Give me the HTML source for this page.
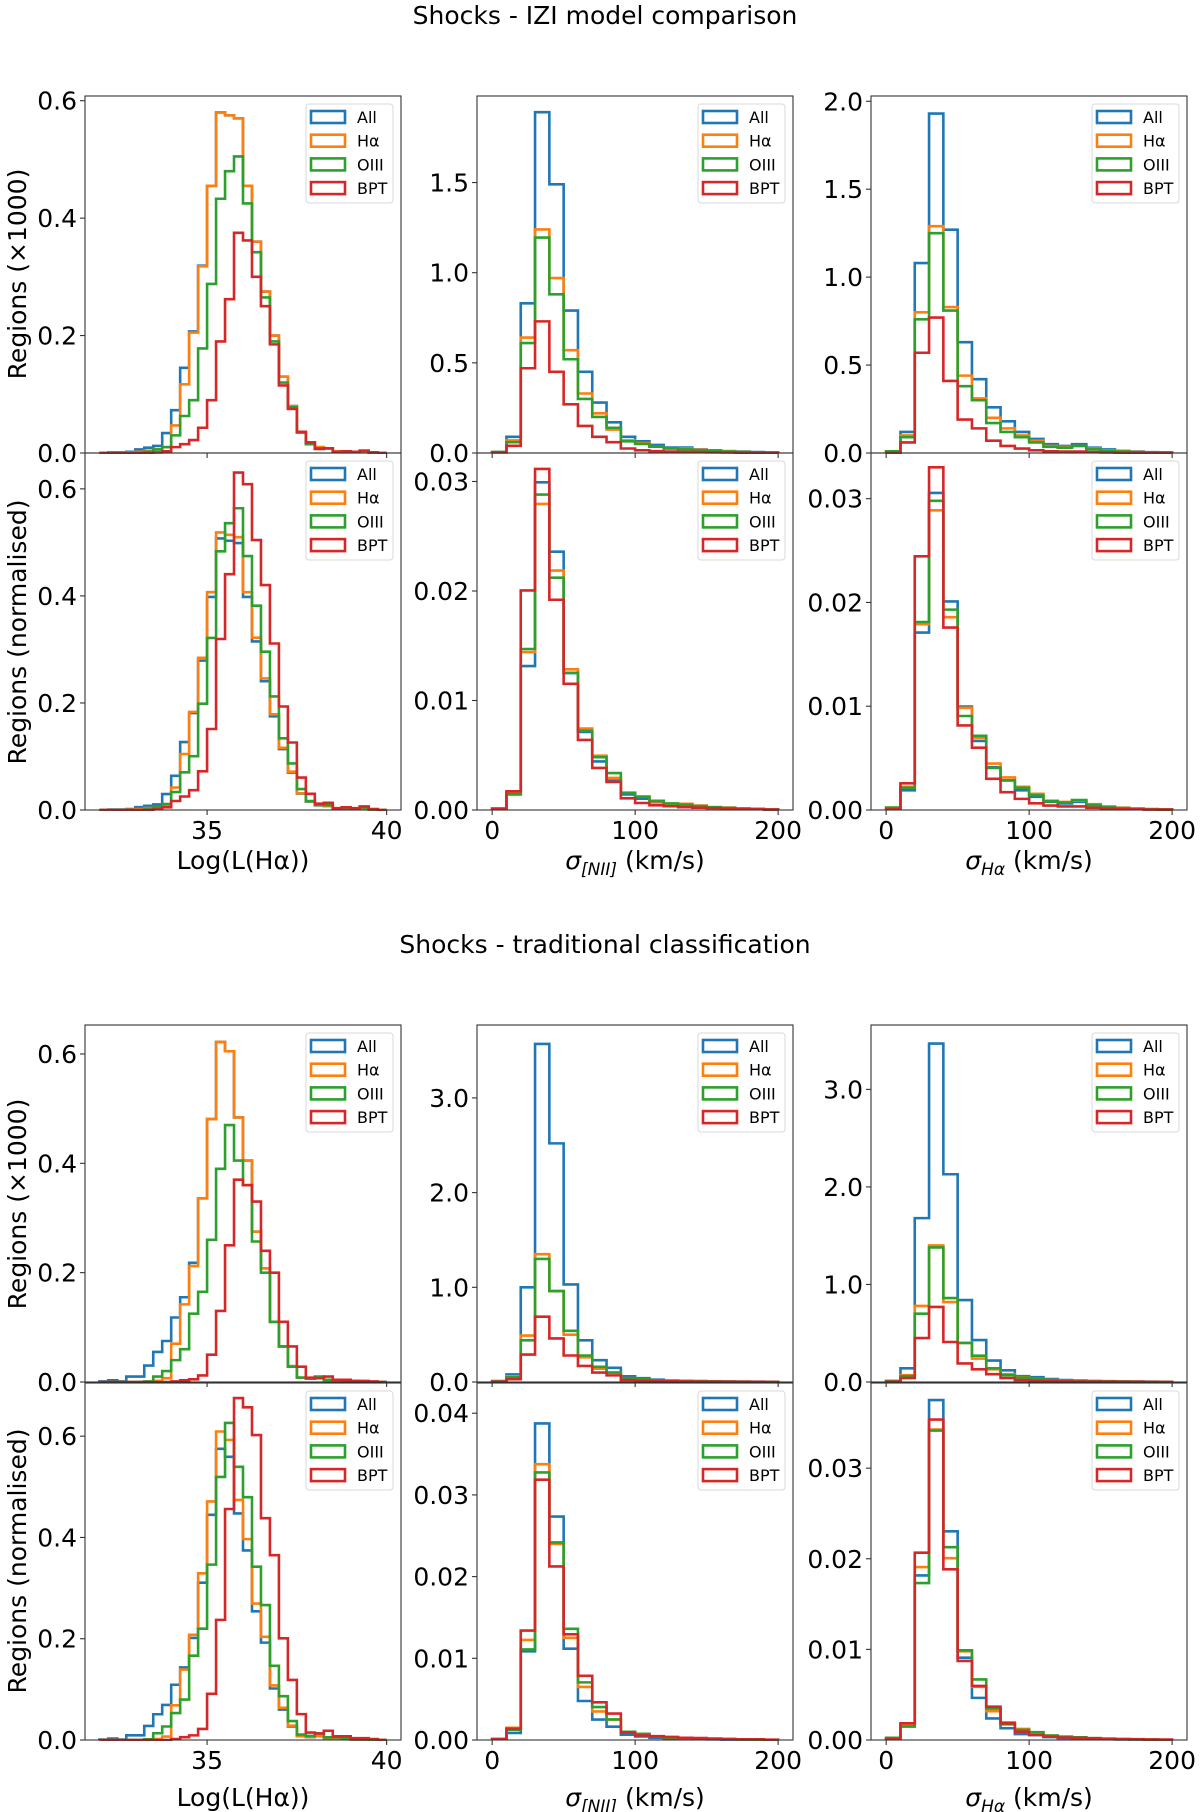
<!DOCTYPE html>
<html><head><meta charset="utf-8"><style>
html,body{margin:0;padding:0;background:#fff;}
svg{display:block;font-family:"DejaVu Sans","Liberation Sans",sans-serif;}
</style></head><body>
<svg id="fig" width="1200" height="1812" viewBox="0 0 1200 1812" xmlns="http://www.w3.org/2000/svg">
<text x="605" y="24" font-size="25" text-anchor="middle">Shocks - IZI model comparison</text>
<text x="605" y="953" font-size="25" text-anchor="middle">Shocks - traditional classification</text>
</svg>
<script>
// ---- data (top-level arrays) ----
const seriesNames = ["All","Hα","OIII","BPT"];
const seriesColors = ["#1f77b4","#ff7f0e","#2ca02c","#d62728"];
const lumBinStart = 32, lumBinWidth = 0.25;
const sigBinStart = 0, sigBinWidth = 10;

// IZI, luminosity (x1000)
const iziLumAll = [0,0.001,0.001,0.002,0.006,0.009,0.012,0.034,0.073,0.145,0.207,0.319,0.455,0.58,0.575,0.57,0.455,0.36,0.275,0.2,0.13,0.08,0.035,0.018,0.01,0.008,0.003,0.003,0.002,0.003,0.001,0];
const iziLumHa  = [0,0,0,0.001,0.002,0.004,0.006,0.01,0.047,0.117,0.205,0.318,0.455,0.58,0.575,0.57,0.455,0.36,0.275,0.2,0.13,0.08,0.035,0.018,0.01,0.008,0.003,0.003,0.002,0.003,0.001,0];
const iziLumO3  = [0,0,0,0,0,0.002,0.006,0.01,0.03,0.063,0.09,0.178,0.288,0.433,0.48,0.505,0.425,0.342,0.265,0.19,0.12,0.078,0.035,0.015,0.008,0.008,0.002,0.003,0.002,0.004,0.001,0];
const iziLumBPT = [0,0,0,0,0,0,0.001,0.003,0.01,0.015,0.022,0.043,0.09,0.19,0.262,0.375,0.362,0.3,0.25,0.185,0.115,0.075,0.036,0.018,0.007,0.008,0.002,0.003,0.002,0.004,0.001,0];
// IZI, sigma NII
const iziNiiAll = [0.005,0.09,0.83,1.89,1.49,0.79,0.45,0.28,0.17,0.09,0.065,0.045,0.03,0.03,0.02,0.015,0.01,0.008,0.005,0.003];
const iziNiiHa  = [0.005,0.07,0.64,1.24,0.97,0.57,0.33,0.22,0.13,0.07,0.055,0.035,0.025,0.025,0.018,0.012,0.01,0.006,0.004,0.002];
const iziNiiO3  = [0.005,0.06,0.61,1.195,0.88,0.52,0.3,0.2,0.14,0.065,0.05,0.035,0.025,0.02,0.015,0.01,0.008,0.005,0.004,0.002];
const iziNiiBPT = [0.003,0.04,0.47,0.73,0.45,0.27,0.15,0.09,0.06,0.025,0.015,0.01,0.008,0.006,0.005,0.004,0.003,0.002,0.002,0.001];
// IZI, sigma Ha
const iziHaAll = [0.01,0.12,1.08,1.93,1.27,0.63,0.42,0.26,0.18,0.12,0.08,0.05,0.04,0.05,0.03,0.02,0.012,0.008,0.005,0.003];
const iziHaHa  = [0.01,0.1,0.8,1.29,0.83,0.44,0.31,0.2,0.14,0.1,0.07,0.04,0.035,0.04,0.025,0.015,0.01,0.006,0.004,0.002];
const iziHaO3  = [0.01,0.09,0.76,1.25,0.81,0.38,0.3,0.17,0.12,0.09,0.06,0.035,0.03,0.04,0.02,0.012,0.008,0.005,0.003,0.002];
const iziHaBPT = [0.002,0.06,0.57,0.77,0.41,0.19,0.14,0.07,0.04,0.025,0.015,0.01,0.008,0.008,0.005,0.003,0.002,0.002,0.001,0.001];
// Traditional, luminosity
const trdLumAll = [0.001,0.003,0.001,0.01,0.01,0.03,0.055,0.075,0.118,0.155,0.218,0.336,0.481,0.622,0.605,0.484,0.405,0.275,0.208,0.11,0.065,0.029,0.008,0.006,0.008,0.003,0.002,0.002,0.001,0.001,0,0];
const trdLumHa  = [0,0,0,0,0,0,0.002,0.007,0.07,0.142,0.212,0.336,0.481,0.622,0.605,0.484,0.405,0.275,0.208,0.11,0.065,0.029,0.008,0.006,0.008,0.003,0.002,0.002,0.001,0.001,0,0];
const trdLumO3  = [0,0,0,0,0,0.001,0.01,0.02,0.04,0.06,0.125,0.165,0.26,0.39,0.47,0.405,0.36,0.257,0.2,0.11,0.065,0.028,0.008,0.006,0.01,0.004,0.004,0.002,0.002,0.001,0,0];
const trdLumBPT = [0,0,0,0,0,0,0,0,0.001,0.003,0.005,0.012,0.05,0.13,0.25,0.37,0.36,0.33,0.24,0.2,0.11,0.065,0.028,0.008,0.007,0.01,0.004,0.004,0.002,0.002,0.001,0];
// Traditional, sigma NII
const trdNiiAll = [0.01,0.08,1.0,3.57,2.52,1.03,0.44,0.23,0.15,0.06,0.04,0.025,0.015,0.012,0.01,0.008,0.005,0.004,0.003,0.002];
const trdNiiHa  = [0.005,0.06,0.49,1.35,0.96,0.5,0.26,0.14,0.1,0.04,0.03,0.018,0.012,0.01,0.008,0.006,0.004,0.003,0.002,0.001];
const trdNiiO3  = [0.005,0.05,0.44,1.3,0.96,0.54,0.28,0.16,0.1,0.04,0.03,0.018,0.012,0.01,0.008,0.006,0.004,0.003,0.002,0.001];
const trdNiiBPT = [0.002,0.03,0.29,0.69,0.46,0.28,0.17,0.1,0.07,0.02,0.012,0.01,0.008,0.006,0.005,0.004,0.003,0.002,0.002,0.001];
// Traditional, sigma Ha
const trdHaAll = [0.01,0.14,1.68,3.47,2.13,0.84,0.43,0.22,0.12,0.06,0.05,0.03,0.02,0.015,0.01,0.008,0.006,0.004,0.003,0.002];
const trdHaHa  = [0.01,0.07,0.78,1.4,0.82,0.4,0.24,0.13,0.08,0.05,0.035,0.02,0.015,0.012,0.008,0.006,0.004,0.003,0.002,0.001];
const trdHaO3  = [0.01,0.06,0.7,1.38,0.86,0.4,0.27,0.14,0.07,0.045,0.035,0.02,0.015,0.012,0.008,0.006,0.004,0.003,0.002,0.001];
const trdHaBPT = [0.003,0.04,0.45,0.77,0.41,0.19,0.13,0.08,0.04,0.02,0.012,0.008,0.006,0.005,0.004,0.003,0.002,0.002,0.001,0.001];

const lumTicks = [35,40];
const sigTicks = [0,100,200];

// ---- layout ----
const NS = "http://www.w3.org/2000/svg";
const svg = document.getElementById("fig");
const colLeft = [85,477,871], panelW = 316;
const rowTop = [96,453,1025,1383], panelH = 357;

function mk(tag, attrs, parent){
  const e = document.createElementNS(NS, tag);
  for (const k in attrs) e.setAttribute(k, attrs[k]);
  (parent||svg).appendChild(e);
  return e;
}
function normalise(arr, bw){
  let s = 0; arr.forEach(v => s += v);
  return arr.map(v => v/(s*bw));
}

const defs = mk("defs", {});

const panels = [
  {r:0,c:0,d:[iziLumAll,iziLumHa,iziLumO3,iziLumBPT],k:"lum",n:false,ymax:0.608,yt:[0,0.2,0.4,0.6],dg:1,name:"izi-lum-counts"},
  {r:0,c:1,d:[iziNiiAll,iziNiiHa,iziNiiO3,iziNiiBPT],k:"sig",n:false,ymax:1.98,yt:[0,0.5,1.0,1.5],dg:1,name:"izi-nii-counts"},
  {r:0,c:2,d:[iziHaAll,iziHaHa,iziHaO3,iziHaBPT],k:"sig",n:false,ymax:2.03,yt:[0,0.5,1.0,1.5,2.0],dg:1,name:"izi-ha-counts"},
  {r:1,c:0,d:[iziLumAll,iziLumHa,iziLumO3,iziLumBPT],k:"lum",n:true,ymax:0.667,yt:[0,0.2,0.4,0.6],dg:1,name:"izi-lum-normalised"},
  {r:1,c:1,d:[iziNiiAll,iziNiiHa,iziNiiO3,iziNiiBPT],k:"sig",n:true,ymax:0.0326,yt:[0,0.01,0.02,0.03],dg:2,name:"izi-nii-normalised"},
  {r:1,c:2,d:[iziHaAll,iziHaHa,iziHaO3,iziHaBPT],k:"sig",n:true,ymax:0.0344,yt:[0,0.01,0.02,0.03],dg:2,name:"izi-ha-normalised"},
  {r:2,c:0,d:[trdLumAll,trdLumHa,trdLumO3,trdLumBPT],k:"lum",n:false,ymax:0.653,yt:[0,0.2,0.4,0.6],dg:1,name:"trad-lum-counts"},
  {r:2,c:1,d:[trdNiiAll,trdNiiHa,trdNiiO3,trdNiiBPT],k:"sig",n:false,ymax:3.77,yt:[0,1,2,3],dg:1,name:"trad-nii-counts"},
  {r:2,c:2,d:[trdHaAll,trdHaHa,trdHaO3,trdHaBPT],k:"sig",n:false,ymax:3.66,yt:[0,1,2,3],dg:1,name:"trad-ha-counts"},
  {r:3,c:0,d:[trdLumAll,trdLumHa,trdLumO3,trdLumBPT],k:"lum",n:true,ymax:0.705,yt:[0,0.2,0.4,0.6],dg:1,name:"trad-lum-normalised"},
  {r:3,c:1,d:[trdNiiAll,trdNiiHa,trdNiiO3,trdNiiBPT],k:"sig",n:true,ymax:0.0437,yt:[0,0.01,0.02,0.03,0.04],dg:2,name:"trad-nii-normalised"},
  {r:3,c:2,d:[trdHaAll,trdHaHa,trdHaO3,trdHaBPT],k:"sig",n:true,ymax:0.0394,yt:[0,0.01,0.02,0.03],dg:2,name:"trad-ha-normalised"}
];

panels.forEach((p, pi) => {
  const L = colLeft[p.c], T = rowTop[p.r], B = T + panelH;
  const g = mk("g", {});
  
  
  const cp = mk("clipPath", {id: "clip" + pi}, defs);
  mk("rect", {x: L, y: T - 1, width: panelW, height: panelH + 2}, cp);
  const xmin = p.k === "lum" ? 31.6 : -10.6;
  const xmax = p.k === "lum" ? 40.4 : 210.4;
  const bs = p.k === "lum" ? lumBinStart : sigBinStart;
  const bw = p.k === "lum" ? lumBinWidth : sigBinWidth;
  const xs = v => L + (v - xmin) / (xmax - xmin) * panelW;
  const ys = v => B - v / p.ymax * panelH;

  const hg = mk("g", {"clip-path": "url(#clip" + pi + ")"}, g);
  p.d.forEach((raw, si) => {
    const arr = p.n ? normalise(raw, bw) : raw;
    let d = "M" + xs(bs).toFixed(2) + "," + ys(0).toFixed(2);
    arr.forEach((v, i) => {
      const x0 = xs(bs + i*bw), x1 = xs(bs + (i+1)*bw), y = ys(v);
      d += " L" + x0.toFixed(2) + "," + y.toFixed(2) + " L" + x1.toFixed(2) + "," + y.toFixed(2);
    });
    d += " L" + xs(bs + arr.length*bw).toFixed(2) + "," + ys(0).toFixed(2);
    const path = mk("path", {d: d, fill: "none", stroke: seriesColors[si], "stroke-width": 2.6, "stroke-linejoin": "miter"}, hg);
    
    
  });

  const frame = mk("rect", {x: L, y: T, width: panelW, height: panelH, fill: "none", stroke: "#333", "stroke-width": 1.1}, g);
  
  

  p.yt.forEach(t => {
    const y = ys(t);
    mk("line", {x1: L - 5, x2: L, y1: y, y2: y, stroke: "#333", "stroke-width": 1.1}, g);
    const tl = mk("text", {x: L - 8, y: y + 9, "font-size": 25, "text-anchor": "end"}, g);
    tl.textContent = t.toFixed(p.dg);
    
    
  });

  const xt = p.k === "lum" ? lumTicks : sigTicks;
  xt.forEach(t => {
    const x = xs(t);
    mk("line", {x1: x, x2: x, y1: B, y2: B + 5, stroke: "#333", "stroke-width": 1.1}, g);
    if (p.r === 1 || p.r === 3) {
      const tl = mk("text", {x: x, y: B + 29, "font-size": 25, "text-anchor": "middle"}, g);
      tl.textContent = String(t);
      
      
    }
  });

  const lg = mk("g", {}, g);
  
  
  mk("rect", {x: L + 221, y: T + 8, width: 87, height: 99, rx: 3, fill: "#fff", "fill-opacity": 0.8, stroke: "#d8d8d8", "stroke-width": 1}, lg);
  seriesNames.forEach((nm, si) => {
    const cy = T + 21 + si * 23.7;
    const sw = mk("rect", {x: L + 226, y: cy - 6, width: 34, height: 12, fill: "none", stroke: seriesColors[si], "stroke-width": 2.6}, lg);
    
    
    const tx = mk("text", {x: L + 272, y: cy + 6, "font-size": 16}, lg);
    tx.textContent = nm;
    
    
  });
});

const yTitles = [["Regions (×1000)",274],["Regions (normalised)",632],["Regions (×1000)",1204],["Regions (normalised)",1561]];
yTitles.forEach(([t, cy]) => {
  const e = mk("text", {x: 0, y: 0, "font-size": 25, "text-anchor": "middle", transform: "translate(26," + cy + ") rotate(-90)"});
  e.textContent = t;
  
  
});

[869, 1806].forEach(by => {
  const a = mk("text", {x: 243, y: by, "font-size": 25, "text-anchor": "middle"});
  a.textContent = "Log(L(Hα))";
  
  

  const b = mk("text", {x: 635, y: by, "font-size": 25, "text-anchor": "middle"});
  b.innerHTML = '<tspan font-style="italic">σ</tspan><tspan font-style="italic" font-size="17" dy="6">[NII]</tspan><tspan dy="-6"> (km/s)</tspan>';
  
  

  const c = mk("text", {x: 1029, y: by, "font-size": 25, "text-anchor": "middle"});
  c.innerHTML = '<tspan font-style="italic">σ</tspan><tspan font-style="italic" font-size="17" dy="6">Hα</tspan><tspan dy="-6"> (km/s)</tspan>';
  
  
});
</script>
</body></html>
